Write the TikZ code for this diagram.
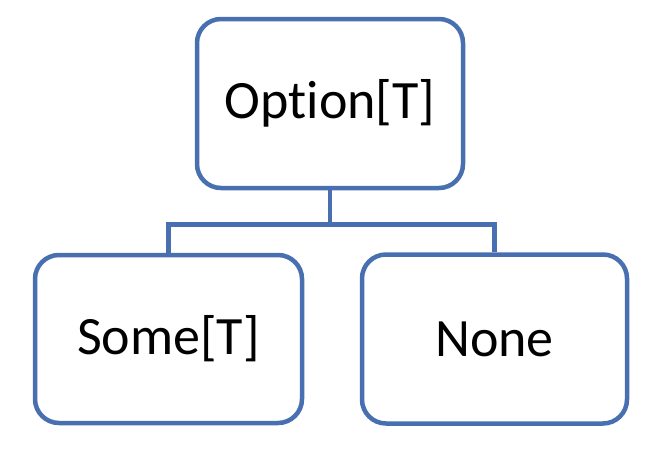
\documentclass[tikz,border=0pt]{standalone}
\usepackage{fontspec}
\setmainfont{Carlito}[Ligatures=NoCommon]
\usepackage{tikz}
\usetikzlibrary{calc}
\definecolor{boxblue}{RGB}{72,112,176}

\begin{document}
\begin{tikzpicture}[x=1pt, y=-1pt]
\useasboundingbox (0,0) rectangle (669,450);
\begin{scope}[every node/.style={draw=boxblue, line width=4.5pt, rounded corners=24pt, fill=white, inner sep=0pt, font=\fontsize{54}{60}\selectfont}]
%parent type
\node[minimum width=266pt, minimum height=169pt] (option) at (330,103.5) {Option[T]};
%the two cases
\node[minimum width=267pt, minimum height=168pt] (some) at (168.5,339) {Some[T]};
\node[minimum width=265pt, minimum height=169pt] (none) at (494.5,339) {None};
\end{scope}
%tree lines
\draw[boxblue, line width=4.5pt] (option.south) -- +(0,34) coordinate (fork);
\draw[boxblue, line width=4.5pt] (fork) -| (some.north) (fork) -| (none.north);
\end{tikzpicture}
\end{document}
